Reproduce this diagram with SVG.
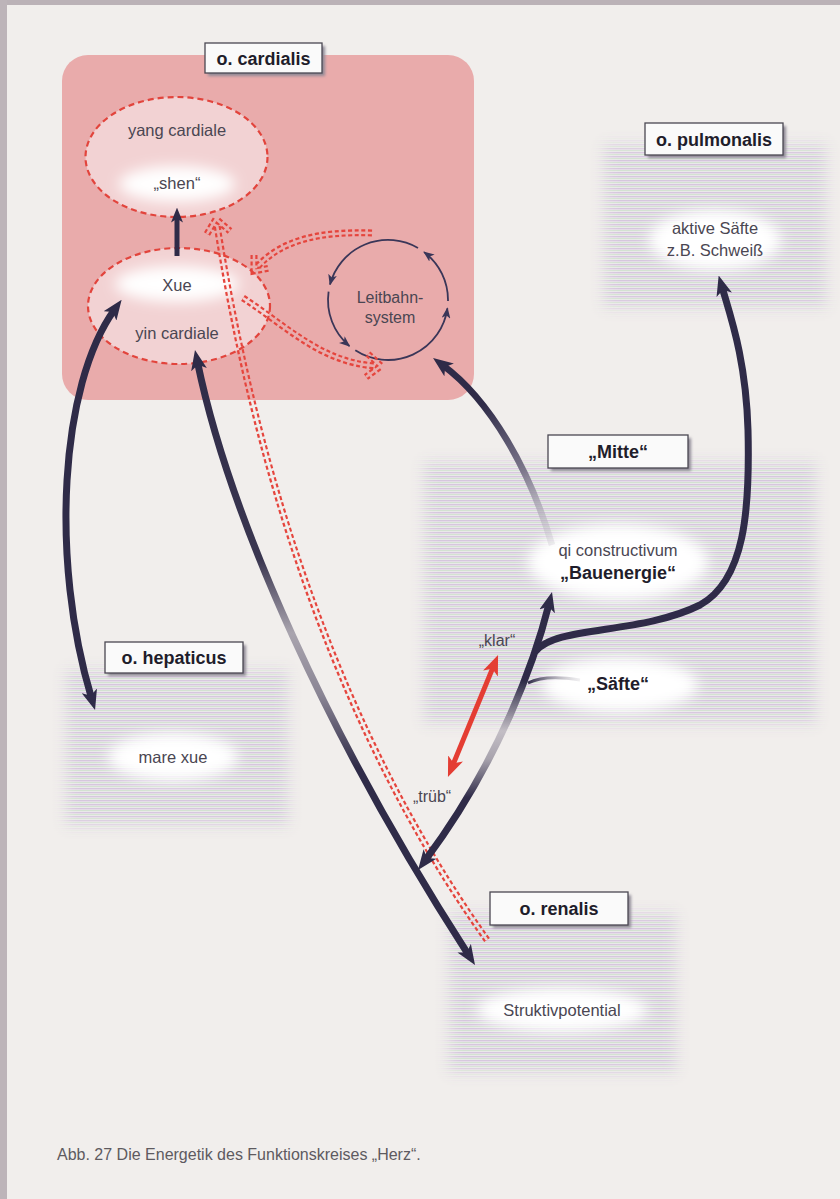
<svg xmlns="http://www.w3.org/2000/svg" width="840" height="1199" viewBox="0 0 840 1199">
<defs>
<style>
.lbl{font-family:"Liberation Sans",Arial,sans-serif;font-weight:bold;font-size:18px;fill:#1f1d2b;text-anchor:middle}
.t{font-family:"Liberation Sans",Arial,sans-serif;font-size:16.5px;fill:#4a4652;text-anchor:middle}
.b{font-family:"Liberation Sans",Arial,sans-serif;font-weight:bold;font-size:18px;fill:#1f1d2b;text-anchor:middle}
.box{fill:#fafafa;stroke:#4b4852;stroke-width:1.3}
.sh{fill:#8f8a96;filter:url(#bl2)}
.rell{stroke:#e2443c;stroke-width:2.2;stroke-dasharray:6 4}
.dk{fill:none;stroke:#2f2b48;stroke-width:7}
.glow{fill:#ffffff;filter:url(#bl6)}
</style>
<filter id="bl2" x="-20%" y="-20%" width="140%" height="140%"><feGaussianBlur stdDeviation="1.5"/></filter>
<filter id="bl6" x="-30%" y="-50%" width="160%" height="200%"><feGaussianBlur stdDeviation="7"/></filter>
<filter id="bl8" x="-20%" y="-20%" width="140%" height="140%"><feGaussianBlur stdDeviation="7"/></filter>
<pattern id="stripes" patternUnits="userSpaceOnUse" width="8" height="4">
<rect width="8" height="4" fill="#efebf0"/>
<rect y="0" width="8" height="1.4" fill="#d6c6de"/>
<rect y="2" width="8" height="1.2" fill="#d3e2d1"/>
</pattern>
<mask id="mstr" maskUnits="userSpaceOnUse" x="0" y="0" width="840" height="1199">
<g fill="#fff" filter="url(#bl8)">
<rect x="604" y="144" width="222" height="164"/>
<rect x="424" y="462" width="392" height="262"/>
<rect x="66" y="670" width="222" height="156"/>
<rect x="449" y="913" width="227" height="160"/>
</g>
</mask>
<path id="r1" d="M372 233 C320 231 282 240 258 266 M254 255 L254 271 L270 268"/>
<path id="r2" d="M243 298 C285 325 320 362 375 366 M368 354 L381 366 L366 377"/>
<path id="r3" d="M487 940 C380 790 270 560 217 225 M207 234 L216 219 L230 231"/>
<mask id="mr" maskUnits="userSpaceOnUse" x="0" y="0" width="840" height="1199">
<rect width="840" height="1199" fill="#fff"/>
<g fill="none" stroke="#000" stroke-width="2.6">
<use href="#r1"/><use href="#r2"/><use href="#r3"/>
</g>
</mask>
<marker id="ah" viewBox="0 0 20 16" refX="8" refY="8" markerWidth="20" markerHeight="16" markerUnits="userSpaceOnUse" orient="auto-start-reverse">
<path d="M0,0 L20,8 L0,16 L5,8 z" fill="#2f2b48"/>
</marker>
<marker id="ahs" viewBox="0 0 20 16" refX="8" refY="8" markerWidth="15" markerHeight="12" markerUnits="userSpaceOnUse" orient="auto-start-reverse">
<path d="M0,0 L20,8 L0,16 L5,8 z" fill="#2f2b48"/>
</marker>
<marker id="ahr" viewBox="0 0 20 16" refX="8" refY="8" markerWidth="20" markerHeight="16" markerUnits="userSpaceOnUse" orient="auto-start-reverse">
<path d="M0,0 L20,8 L0,16 L5,8 z" fill="#e43d33"/>
</marker>
<marker id="ahc" viewBox="0 0 10 8" refX="9" refY="4" markerWidth="11" markerHeight="9" markerUnits="userSpaceOnUse" orient="auto">
<path d="M0,0 L10,4 L0,8 L2.5,4 z" fill="#3a3658"/>
</marker>
<linearGradient id="gb" gradientUnits="userSpaceOnUse" x1="0" y1="350" x2="0" y2="965">
<stop offset="0" stop-color="#2f2b48"/><stop offset="0.34" stop-color="#3a3650"/><stop offset="0.46" stop-color="#a9a4ae"/><stop offset="0.56" stop-color="#8a8594"/><stop offset="0.68" stop-color="#2f2b48"/><stop offset="1" stop-color="#2f2b48"/>
</linearGradient>
<linearGradient id="gd" gradientUnits="userSpaceOnUse" x1="0" y1="592" x2="0" y2="870">
<stop offset="0" stop-color="#2f2b48"/><stop offset="0.32" stop-color="#2f2b48"/><stop offset="0.5" stop-color="#c3bec5"/><stop offset="0.6" stop-color="#a8a3ad"/><stop offset="0.74" stop-color="#2f2b48"/><stop offset="1" stop-color="#2f2b48"/>
</linearGradient>
<linearGradient id="gc" gradientUnits="userSpaceOnUse" x1="552" y1="545" x2="433" y2="358">
<stop offset="0" stop-color="#c8c4cc" stop-opacity="0.3"/><stop offset="0.35" stop-color="#7d788c"/><stop offset="0.7" stop-color="#2f2b48"/><stop offset="1" stop-color="#2f2b48"/>
</linearGradient>
<linearGradient id="gf" gradientUnits="userSpaceOnUse" x1="528" y1="0" x2="580" y2="0">
<stop offset="0" stop-color="#2f2b48"/><stop offset="1" stop-color="#b8b4bc" stop-opacity="0.2"/>
</linearGradient>
</defs>

<rect width="840" height="1199" fill="#f1eeec"/>
<rect width="840" height="5" fill="#bbb2b7"/>
<rect width="7" height="1199" fill="#bdb4b9"/>

<g id="backgrounds">
<rect x="0" y="0" width="840" height="1199" fill="url(#stripes)" mask="url(#mstr)"/>
<rect x="62" y="55" width="412" height="345" rx="26" fill="#e9abab"/>
</g>

<g id="glows">
<ellipse cx="715" cy="240" rx="66" ry="30" class="glow"/>
<ellipse cx="618" cy="562" rx="90" ry="38" class="glow"/>
<ellipse cx="620" cy="685" rx="78" ry="27" class="glow"/>
<ellipse cx="173" cy="757" rx="65" ry="24" class="glow"/>
<ellipse cx="562" cy="1010" rx="85" ry="22" class="glow"/>
</g>

<g id="yang-cardiale">
<ellipse cx="176.5" cy="157" rx="91" ry="60" fill="#f2d2d3"/>
<ellipse cx="177" cy="184" rx="58" ry="18" class="glow"/>
<ellipse cx="176.5" cy="157" rx="91" ry="60" fill="none" class="rell"/>
<text x="177" y="136" class="t">yang cardiale</text>
<text x="177" y="189" class="t">„shen“</text>
</g>
<g id="yin-cardiale">
<ellipse cx="179" cy="306" rx="91" ry="58" fill="#f2d2d3"/>
<ellipse cx="177" cy="284" rx="62" ry="18" class="glow"/>
<ellipse cx="179" cy="306" rx="91" ry="58" fill="none" class="rell"/>
<text x="177" y="291" class="t">Xue</text>
<text x="177" y="339" class="t">yin cardiale</text>
</g>
<g id="leitbahnsystem">
<g fill="none" stroke="#3a3658" stroke-width="1.8" marker-end="url(#ahc)">
<path d="M418 248 A60 60 0 0 0 330 284.5"/>
<path d="M328.6 291.6 A60 60 0 0 0 349.4 346"/>
<path d="M355.3 350.3 A60 60 0 0 0 447.4 308.4"/>
<path d="M448 301 A60 60 0 0 0 424.1 252.1"/>
</g>
<text x="390" y="303" class="t" style="font-size:16px">Leitbahn-</text>
<text x="390" y="323" class="t" style="font-size:16px">system</text>
</g>
<g id="label-cardialis">
<rect x="208" y="46" width="117" height="30" class="sh"/>
<rect x="205" y="43" width="117" height="30" class="box"/>
<text x="263.5" y="64.5" class="lbl">o. cardialis</text>
</g>

<g id="pulmonalis">
<rect x="648" y="126" width="138" height="32" class="sh"/>
<rect x="645" y="123" width="138" height="32" class="box"/>
<text x="714" y="145.5" class="lbl">o. pulmonalis</text>
<text x="715" y="234" class="t">aktive Säfte</text>
<text x="715" y="256" class="t">z.B. Schweiß</text>
</g>
<g id="mitte">
<rect x="551" y="438" width="140" height="33" class="sh"/>
<rect x="548" y="435" width="140" height="33" class="box"/>
<text x="618" y="458" class="lbl">„Mitte“</text>
<text x="618" y="556" class="t">qi constructivum</text>
<text x="618" y="579" class="b">„Bauenergie“</text>
<text x="618" y="690" class="b">„Säfte“</text>
</g>
<g id="hepaticus">
<rect x="108" y="645" width="138" height="31" class="sh"/>
<rect x="105" y="642" width="138" height="31" class="box"/>
<text x="174" y="664" class="lbl">o. hepaticus</text>
<text x="173" y="763" class="t">mare xue</text>
</g>
<g id="renalis">
<rect x="493" y="895" width="138" height="33" class="sh"/>
<rect x="490" y="892" width="138" height="33" class="box"/>
<text x="559" y="915" class="lbl">o. renalis</text>
<text x="562" y="1016" class="t">Struktivpotential</text>
</g>
<g id="klar-trueb">
<text x="497" y="646" class="t" style="font-size:16px">„klar“</text>
<text x="432" y="802" class="t" style="font-size:16px">„trüb“</text>
</g>

<g id="connectors">
<g mask="url(#mr)" fill="none" stroke="#e5453d" stroke-width="7" stroke-dasharray="4 2.6">
<use href="#r1"/><use href="#r2"/><use href="#r3"/>
</g>
<path d="M177 256 L177 216.6" fill="none" stroke="#2f2b48" stroke-width="5" marker-end="url(#ahs)"/>
<path d="M114.6 309.5 C60 385 50 560 91.6 698.5" class="dk" marker-start="url(#ah)" marker-end="url(#ah)"/>
<path d="M197.4 361.8 C230 520 330 740 468.5 954.9" class="dk" style="stroke:url(#gb)" marker-start="url(#ah)" marker-end="url(#ah)"/>
<path d="M552 545 C530 470 490 400 442.7 365.1" class="dk" style="stroke:url(#gc);stroke-width:6.5" marker-end="url(#ah)"/>
<path d="M549.1 603.6 C535 660 500 760 425.2 860.4" class="dk" style="stroke:url(#gd)" marker-start="url(#ah)" marker-end="url(#ah)"/>
<path d="M535 652 C555 625 640 635 700 605 C745 580 750 510 748 430 C746 360 731 318 722 287" class="dk" marker-end="url(#ah)"/>
<path d="M528 683 C540 677 556 676 580 680" fill="none" stroke="url(#gf)" stroke-width="3"/>
<path d="M493.5 666.1 L452.5 765.9" fill="none" stroke="#e43d33" stroke-width="5" marker-start="url(#ahr)" marker-end="url(#ahr)"/>
</g>

<text x="57" y="1160" style="font-family:'Liberation Sans',Arial,sans-serif;font-size:16px;fill:#5e5a60">Abb. 27  Die Energetik des Funktionskreises „Herz“.</text>
</svg>
